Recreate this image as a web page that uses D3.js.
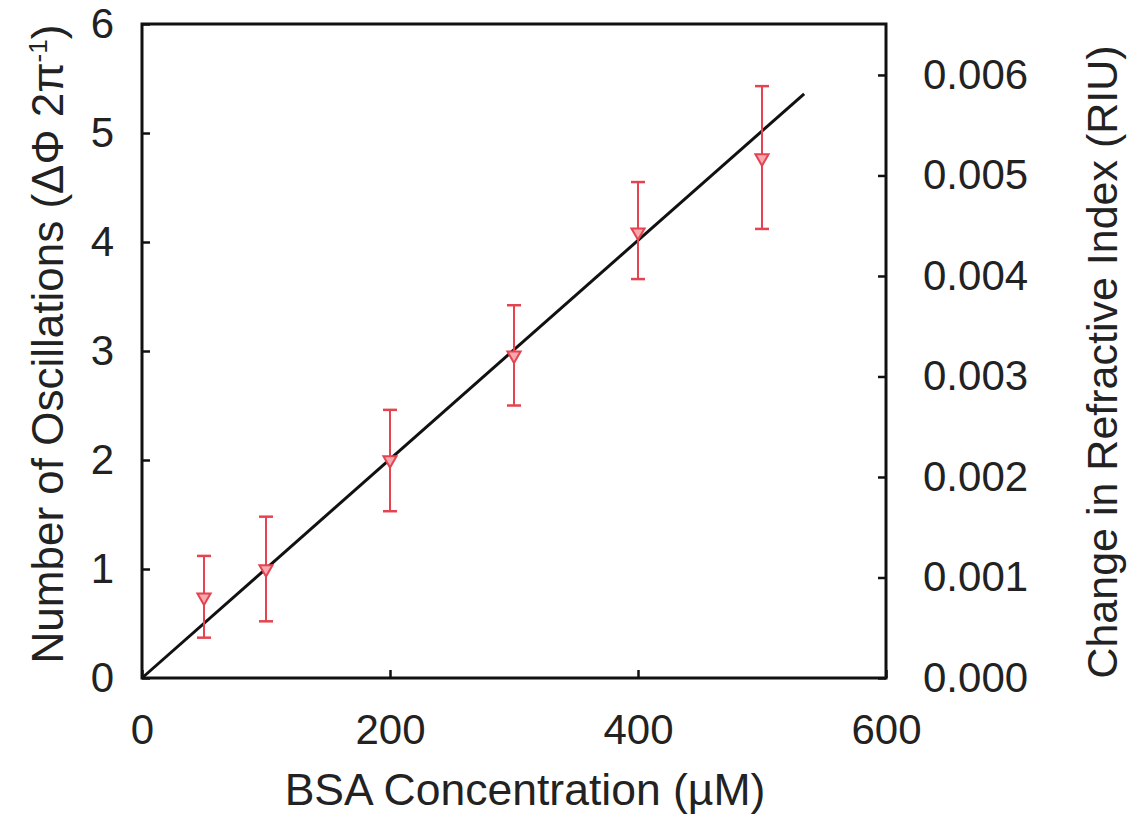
<!DOCTYPE html>
<html lang="en">
<head>
    <meta charset="UTF-8">
    <title>BSA Concentration vs Oscillations</title>
    <script src="https://d3js.org/d3.v7.min.js"></script>
    <style>
        body { margin: 0; background: #fff; }
        text { font-family: "Liberation Sans", Arial, sans-serif; fill: #222; }
    </style>
</head>
<body>
    <script>
        // values
        const concentrations = [50, 100, 200, 300, 400, 500];
        const oscillations = [0.74, 1.0, 2.0, 2.96, 4.09, 4.77];
        const errUpper = [1.12, 1.48, 2.46, 3.42, 4.55, 5.43];
        const errLower = [0.37, 0.52, 1.53, 2.5, 3.66, 4.12];
        const fitLine = [[0, 0], [534, 5.36]];

        const xTicks = [0, 200, 400, 600];
        const yTicks = [0, 1, 2, 3, 4, 5, 6];
        const riuTicks = [0, 0.001, 0.002, 0.003, 0.004, 0.005, 0.006];
        const riuMax = 0.006507;

        const width = 1139, height = 818;
        const plotLeft = 142, plotRight = 886, plotTop = 24, plotBottom = 678;

        const svg = d3.select("body").append("svg")
            .attr("width", width)
            .attr("height", height);

        const x = d3.scaleLinear().domain([0, 600]).range([plotLeft, plotRight]);
        const y = d3.scaleLinear().domain([0, 6]).range([plotBottom, plotTop]);
        const yR = d3.scaleLinear().domain([0, riuMax]).range([plotBottom, plotTop]);

        // axes with inward ticks
        const xAxis = svg.append("g")
            .attr("transform", `translate(0,${plotBottom})`)
            .call(d3.axisBottom(x).tickValues(xTicks).tickSizeInner(-8).tickSizeOuter(0));
        const yAxis = svg.append("g")
            .attr("transform", `translate(${plotLeft},0)`)
            .call(d3.axisLeft(y).tickValues(yTicks).tickFormat(d3.format("d"))
                .tickSizeInner(-8).tickSizeOuter(0));
        const rAxis = svg.append("g")
            .attr("transform", `translate(${plotRight},0)`)
            .call(d3.axisRight(yR).tickValues(riuTicks).tickFormat(d3.format(".3f"))
                .tickSizeInner(-8).tickSizeOuter(0));

        [xAxis, yAxis, rAxis].forEach(g => {
            g.select(".domain").remove();
            g.selectAll(".tick line").attr("stroke", "#111").attr("stroke-width", 2.5);
            g.selectAll(".tick text")
                .style("font-size", "42px")
                .attr("fill", "#222");
        });
        xAxis.selectAll(".tick text").attr("dy", "0.71em").attr("y", 36);
        yAxis.selectAll(".tick text").attr("x", -28);
        rAxis.selectAll(".tick text").attr("x", 37);

        // frame
        svg.append("rect")
            .attr("x", plotLeft).attr("y", plotTop)
            .attr("width", plotRight - plotLeft).attr("height", plotBottom - plotTop)
            .attr("fill", "none")
            .attr("stroke", "#111")
            .attr("stroke-width", 3);

        // fit line
        svg.append("path")
            .datum(fitLine)
            .attr("d", d3.line().x(d => x(d[0])).y(d => y(d[1])))
            .attr("stroke", "#111")
            .attr("stroke-width", 3)
            .attr("fill", "none");

        // error bars
        const red = "#e4434f";
        const pts = concentrations.map((c, i) => ({ c, v: oscillations[i], hi: errUpper[i], lo: errLower[i] }));
        const bars = svg.append("g");
        bars.selectAll(".stem").data(pts).enter().append("line")
            .attr("x1", d => x(d.c)).attr("x2", d => x(d.c))
            .attr("y1", d => y(d.hi)).attr("y2", d => y(d.lo))
            .attr("stroke", red).attr("stroke-width", 2);
        ["hi", "lo"].forEach(k => {
            bars.selectAll(".cap-" + k).data(pts).enter().append("line")
                .attr("x1", d => x(d.c) - 7).attr("x2", d => x(d.c) + 7)
                .attr("y1", d => y(d[k])).attr("y2", d => y(d[k]))
                .attr("stroke", red).attr("stroke-width", 2.5);
        });

        // downward triangle markers
        const tri = d3.symbol().type(d3.symbolTriangle).size(75);
        svg.append("g").selectAll("path").data(pts).enter().append("path")
            .attr("d", tri)
            .attr("transform", d => `translate(${x(d.c)},${y(d.v)}) rotate(180)`)
            .attr("fill", "#f4a9b0")
            .attr("stroke", red)
            .attr("stroke-width", 2);

        // axis titles
        svg.append("text")
            .attr("x", 525).attr("y", 805)
            .attr("text-anchor", "middle")
            .style("font-size", "44.5px")
            .text("BSA Concentration (\u00b5M)");

        const yTitle = svg.append("text")
            .attr("transform", "translate(63,344) rotate(-90)")
            .attr("text-anchor", "middle")
            .style("font-size", "44px");
        yTitle.append("tspan").text("Number of Oscillations (\u0394\u03a6 2\u03c0");
        yTitle.append("tspan").attr("dy", -16).style("font-size", "26px").text("-1");
        yTitle.append("tspan").attr("dy", 16).text(")");

        svg.append("text")
            .attr("transform", "translate(1117,362) rotate(-90)")
            .attr("text-anchor", "middle")
            .style("font-size", "43px")
            .text("Change in Refractive Index (RIU)");
    </script>
</body>
</html>
